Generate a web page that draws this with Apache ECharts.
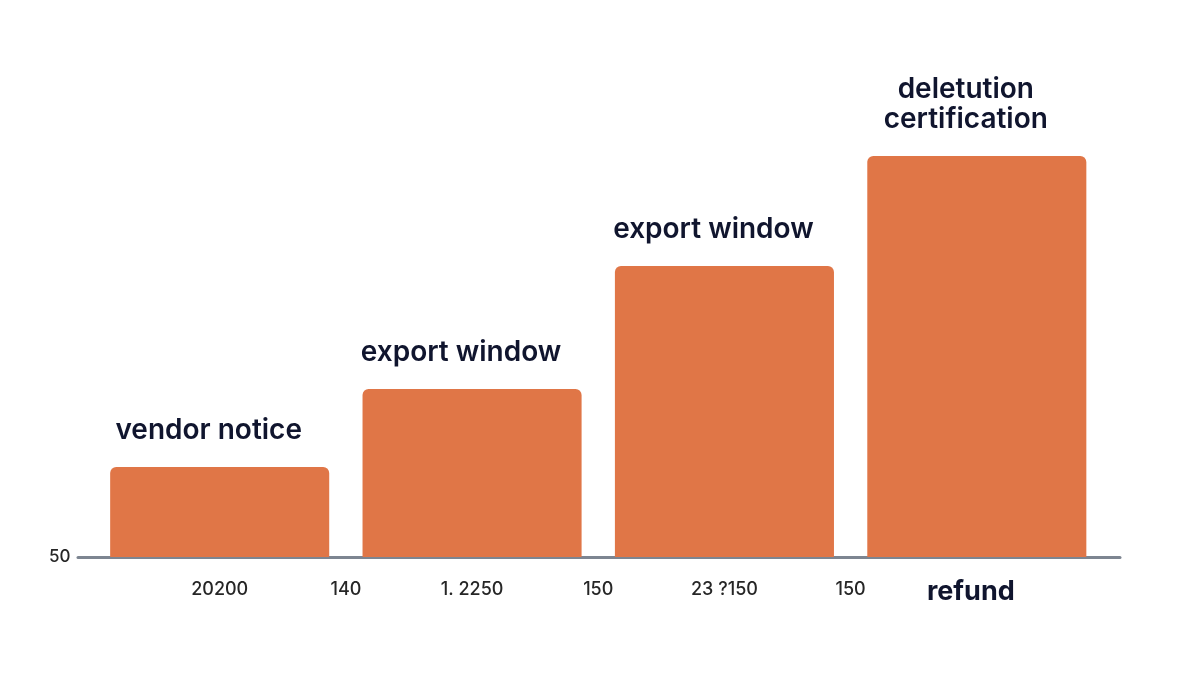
<!DOCTYPE html>
<html>
<head>
<meta charset="UTF-8">
<title>bars</title>
<style>
  html, body { margin: 0; padding: 0; background: #fff; }
  #chart { width: 1200px; height: 675px; }
</style>
</head>
<body>
<div id="chart"></div>
<script src="https://cdn.jsdelivr.net/npm/echarts@6/dist/echarts.min.js"></script>
<script>
// data
var barNames = ['vendor notice', 'export window', 'export window', 'deletution\ncertification'];
var barValues = [140, 218, 341, 451];
var catLabels = ['20200', '1. 2250', '23 ?150', 'refund'];
var gapLabels = ['140', '150', '150'];
var yMin = 50;
var yMax = 550;

var navy = '#10152e';
var myChart = echarts.init(document.getElementById('chart'));
var option = {
  backgroundColor: '#fff',
  animation: false,
  textStyle: { fontFamily: 'Inter' },
  grid: [
    { left: 93.5, right: 97, top: 57, bottom: 118 },
    { left: 78, right: 80, top: 57, bottom: 118 }
  ],
  xAxis: [{
    type: 'category',
    gridIndex: 0,
    position: 'bottom',
    data: catLabels,
    axisLine: { show: false },
    axisTick: { show: false },
    axisLabel: {
      margin: 24,
      fontSize: 18,
      fontWeight: 500,
      color: '#262626',
      formatter: function (v) {
        return v === 'refund' ? '{b|' + v + '}' : v;
      },
      rich: {
        b: { fontSize: 27, fontWeight: 'bold', color: navy, lineHeight: 22, padding: [0, 12, 0, 0] }
      }
    }
  }, {
    // labels that sit between the bars
    type: 'value',
    gridIndex: 0,
    position: 'bottom',
    min: 0,
    max: 4,
    interval: 1,
    axisLine: { show: false },
    axisTick: { show: false },
    splitLine: { show: false },
    axisLabel: {
      margin: 24,
      fontSize: 18,
      fontWeight: 500,
      color: '#262626',
      showMinLabel: false,
      showMaxLabel: false,
      formatter: function (v) {
        return gapLabels[v - 1] || '';
      }
    }
  }, {
    // baseline, a little wider than the bars
    type: 'value',
    gridIndex: 1,
    position: 'bottom',
    min: 0,
    max: 1,
    axisLine: { show: true, lineStyle: { color: '#7d8591', width: 3 } },
    axisTick: { show: false },
    axisLabel: { show: false },
    splitLine: { show: false }
  }],
  yAxis: [{
    type: 'value',
    gridIndex: 0,
    min: yMin,
    max: yMax,
    interval: yMax - yMin,
    axisLine: { show: false },
    axisTick: { show: false },
    splitLine: { show: false },
    axisLabel: {
      margin: 23,
      fontSize: 17,
      fontWeight: 500,
      color: '#262626',
      showMaxLabel: false
    }
  }, {
    type: 'value',
    gridIndex: 1,
    show: false,
    min: 0,
    max: 1
  }],
  series: [{
    type: 'bar',
    xAxisIndex: 0,
    yAxisIndex: 0,
    data: barValues,
    barCategoryGap: '13.2%',
    itemStyle: {
      color: '#e07647',
      borderRadius: [6, 6, 0, 0]
    },
    label: {
      show: true,
      position: 'top',
      distance: 21,
      offset: [-11, 0],
      fontSize: 28,
      fontWeight: 600,
      lineHeight: 30,
      color: navy,
      formatter: function (p) { return barNames[p.dataIndex]; }
    }
  }]
};
myChart.setOption(option);
</script>
</body>
</html>
